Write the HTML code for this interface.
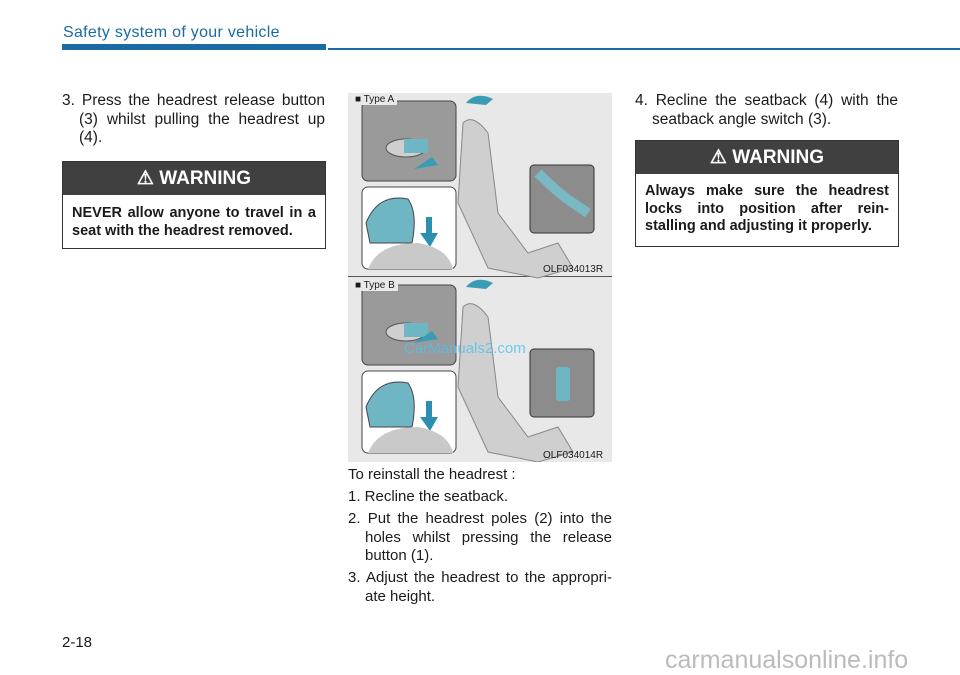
<!DOCTYPE html>
<html><head><meta charset="utf-8"><style>
*{margin:0;padding:0;box-sizing:border-box}
body{width:960px;height:675px;background:#fff;position:relative;overflow:hidden;font-family:"Liberation Sans",sans-serif;color:#1a1a1a}
.a{position:absolute}
.t{font-size:15.5px;line-height:18.5px}
.l{display:block;text-align:justify;text-align-last:justify;white-space:nowrap}
.ll{display:block;white-space:nowrap}
.i{padding-left:17px}
.wh{background:#404040;color:#fff;font-weight:bold;font-size:19px;text-align:center;display:flex;align-items:center;justify-content:center;gap:6px}
.wb{border:1px solid #333;background:#fff}
.wt{font-weight:bold;font-size:14.5px;line-height:17.5px}
.lbl{font-size:10px;background:#e9e9e9;padding:0 3px}
</style></head><body>
<div class="a" style="left:63px;top:24px;font-size:16px;color:#1b6aa3;letter-spacing:0.3px">Safety system of your vehicle</div>
<div class="a" style="left:62px;top:44px;width:264px;height:6px;background:#1b6aa3"></div>
<div class="a" style="left:328px;top:48px;width:632px;height:2px;background:#1b6aa3"></div>

<div class="a t" style="left:62px;top:92px;width:263px">
<span class="l">3. Press the headrest release button</span>
<span class="l i">(3) whilst pulling the headrest up</span>
<span class="ll i">(4).</span></div>

<div class="a wb" style="left:62px;top:161px;width:264px;height:88px">
<div class="wh" style="height:33px">&#9888; WARNING</div>
<div class="wt" style="padding:10px 9px 0 9px"><span class="l">NEVER allow anyone to travel in a</span><span class="ll">seat with the headrest removed.</span></div>
</div>

<div class="a" style="left:348px;top:93px;width:264px;height:369px;background:#e8e8e8"></div>
<div class="a" style="left:348px;top:276px;width:264px;height:1px;background:#555"></div>
<svg class="a" style="left:348px;top:93px" width="264" height="369">
<g>
<rect x="14" y="8" width="94" height="80" rx="6" fill="#9a9a9a" stroke="#444"/>
<rect x="14" y="94" width="94" height="82" rx="6" fill="#fff" stroke="#444"/>
<ellipse cx="58" cy="55" rx="20" ry="9" fill="#cfcfcf" stroke="#555"/>
<rect x="56" y="46" width="24" height="14" fill="#6fb6c4"/>
<path d="M66 76 L84 64 L90 72 Z" fill="#3a9bb5"/>
<path d="M18 130 Q30 100 60 106 Q70 120 64 150 L22 150 Z" fill="#6fb6c4" stroke="#444"/>
<path d="M78 124 L78 140 L72 140 L82 154 L90 140 L84 140 L84 124 Z" fill="#2c8fb0"/>
<path d="M20 176 Q30 150 70 150 Q100 155 105 176 Z" fill="#c9c9c9"/>
<path d="M115 30 Q125 20 140 40 L150 120 L180 160 L210 150 L225 175 L190 185 L140 175 L110 110 Z" fill="#cfcfcf" stroke="#888"/>
<path d="M118 10 Q128 -2 145 6 L138 12" fill="#3a9bb5"/>
<rect x="182" y="72" width="64" height="68" rx="4" fill="#8c8c8c" stroke="#333"/>
<path d="M190 80 Q210 100 225 110 L240 120" stroke="#7ab8c4" stroke-width="10" fill="none"/>
</g>
<g transform="translate(0,184)">
<rect x="14" y="8" width="94" height="80" rx="6" fill="#9a9a9a" stroke="#444"/>
<rect x="14" y="94" width="94" height="82" rx="6" fill="#fff" stroke="#444"/>
<ellipse cx="58" cy="55" rx="20" ry="9" fill="#cfcfcf" stroke="#555"/>
<rect x="56" y="46" width="24" height="14" fill="#6fb6c4"/>
<path d="M66 66 L84 54 L90 62 Z" fill="#3a9bb5"/>
<path d="M18 130 Q30 100 60 106 Q70 120 64 150 L22 150 Z" fill="#6fb6c4" stroke="#444"/>
<path d="M78 124 L78 140 L72 140 L82 154 L90 140 L84 140 L84 124 Z" fill="#2c8fb0"/>
<path d="M20 176 Q30 150 70 150 Q100 155 105 176 Z" fill="#c9c9c9"/>
<path d="M115 30 Q125 20 140 40 L150 120 L180 160 L210 150 L225 175 L190 185 L140 175 L110 110 Z" fill="#cfcfcf" stroke="#888"/>
<path d="M118 10 Q128 -2 145 6 L138 12" fill="#3a9bb5"/>
<rect x="182" y="72" width="64" height="68" rx="4" fill="#8c8c8c" stroke="#333"/>
<rect x="208" y="90" width="14" height="34" rx="3" fill="#6fb6c4"/>
</g>
</svg>
<div class="a lbl" style="left:352px;top:94px">&#9632; Type A</div>
<div class="a lbl" style="left:352px;top:280px">&#9632; Type B</div>
<div class="a" style="left:543px;top:264px;font-size:10px">OLF034013R</div>
<div class="a" style="left:543px;top:450px;font-size:10px">OLF034014R</div>
<div class="a" style="left:404px;top:340px;font-size:15px;color:#4fc3f0;opacity:.8">CarManuals2.com</div>

<div class="a t" style="left:348px;top:466px;width:264px;font-size:15px">
<span class="ll">To reinstall the headrest :</span>
<span class="ll" style="margin-top:3.5px">1. Recline the seatback.</span>
<span class="l" style="margin-top:3.5px">2. Put the headrest poles (2) into the</span>
<span class="l i">holes whilst pressing the release</span>
<span class="ll i">button (1).</span>
<span class="l" style="margin-top:3.5px">3. Adjust the headrest to the appropri-</span>
<span class="ll i">ate height.</span></div>

<div class="a t" style="left:635px;top:92px;width:263px">
<span class="l">4. Recline the seatback (4) with the</span>
<span class="ll i">seatback angle switch (3).</span></div>
<div class="a wb" style="left:635px;top:140px;width:264px;height:107px">
<div class="wh" style="height:33px">&#9888; WARNING</div>
<div class="wt" style="padding:9px 9px 0 9px"><span class="l">Always make sure the headrest</span><span class="l">locks into position after rein-</span><span class="ll">stalling and adjusting it properly.</span></div>
</div>

<div class="a" style="left:62px;top:634px;font-size:15px">2-18</div>
<div class="a" style="left:665px;top:646px;font-size:25px;color:#bbb">carmanualsonline.info</div>
</body></html>
